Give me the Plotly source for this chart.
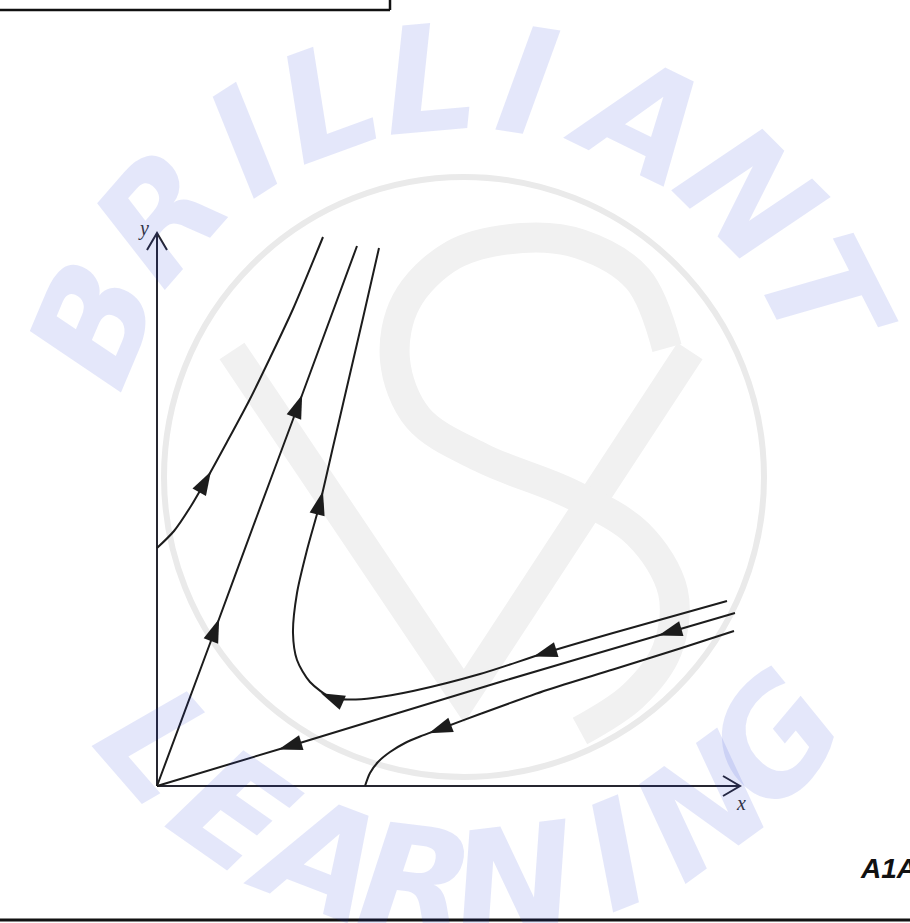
import math
import plotly.graph_objects as go

# ---------------- data (phase-plane units, origin at the axes corner) ----------------
curve_a_x = [0, 17, 34, 48, 70, 93, 113, 136, 166]
curve_a_y = [238, 255, 280, 304, 344, 387, 428, 477, 549]

curve_b_x = [0, 58, 100, 141, 200]
curve_b_y = [0, 156, 270, 380, 540]

curve_c_x = [570, 456, 388, 323, 256, 216, 193, 175, 153, 140, 136, 140, 150, 163, 176, 186, 206, 222]
curve_c_y = [185, 153, 133, 112, 95, 88, 86.5, 88, 104, 126, 153, 193, 236, 283, 339, 382, 468, 538]

curve_d_x = [578, 513, 343, 133, 0]
curve_d_y = [173, 154, 104, 40, 0]

curve_e_x = [577, 523, 456, 390, 323, 283, 263, 248, 233, 221, 213, 208]
curve_e_y = [155, 137.5, 116.5, 96, 72, 57, 49.5, 43, 34, 24, 13, 0]

# which sample of each curve carries a direction arrow
arrow_a = [3]
arrow_b = [1, 3]
arrow_c = [2, 7, 13]
arrow_d = [1, 3]
arrow_e = [5]

axis_x_end = 583
axis_y_end = 553
axis_labels = ["x", "y"]

# watermark
wm_top_text = "BRILLIANT"
wm_top_angles = [157, 139, 123, 110, 95, 81, 64, 45, 27]
wm_bottom_text = "LEARNING"
wm_bottom_angles = [-139, -125, -111, -97, -83, -68, -54, -40]
logo_v_x = [75, 307, 533]
logo_v_y = [435, 90, 435]
logo_s_x = [510, 481, 423, 365, 296, 249, 238, 261, 325, 412, 481, 516, 510, 476, 423]
logo_s_y = [438, 507, 542, 548, 531, 484, 426, 368, 328, 293, 252, 194, 136, 90, 55]
footer_text = "A1A"

# ---------------- layout constants ----------------
W, H = 910, 923
X_RANGE = [-157, 753]
Y_RANGE = [-137, 786]
CURVE = "#1c1c1c"
AXIS = "#262630"


def px(x):
    return x / W


def py(y):
    return 1 - y / H


def arrow_marks(xs, ys, idxs, half=12):
    ax, ay, ang = [], [], []
    for i in idxs:
        dx = xs[i + 1] - xs[i - 1]
        dy = ys[i + 1] - ys[i - 1]
        n = math.hypot(dx, dy)
        ux, uy = dx / n, dy / n
        ax.append(xs[i] + half * ux)
        ay.append(ys[i] + half * uy)
        ang.append(math.degrees(math.atan2(ux, uy)))
    return ax, ay, ang


fig = go.Figure()

# faint gray logo (below curves)
fig.add_trace(go.Scatter(x=logo_v_x, y=logo_v_y, mode="lines",
                         line=dict(color="#f1f1f1", width=30), hoverinfo="skip"))
fig.add_trace(go.Scatter(x=logo_s_x, y=logo_s_y, mode="lines",
                         line=dict(color="#f1f1f1", width=30, shape="spline"), hoverinfo="skip"))

# axes
fig.add_trace(go.Scatter(x=[0, 0], y=[0, axis_y_end], mode="lines",
                         line=dict(color=AXIS, width=2), hoverinfo="skip"))
fig.add_trace(go.Scatter(x=[0, axis_x_end], y=[0, 0], mode="lines",
                         line=dict(color=AXIS, width=2), hoverinfo="skip"))
fig.add_trace(go.Scatter(x=[-10, 0, 10], y=[axis_y_end - 17, axis_y_end, axis_y_end - 17], mode="lines",
                         line=dict(color=AXIS, width=2), hoverinfo="skip"))
fig.add_trace(go.Scatter(x=[axis_x_end - 17, axis_x_end, axis_x_end - 17], y=[10, 0, -10], mode="lines",
                         line=dict(color=AXIS, width=2), hoverinfo="skip"))

curves = [
    (curve_a_x, curve_a_y, arrow_a),
    (curve_b_x, curve_b_y, arrow_b),
    (curve_c_x, curve_c_y, arrow_c),
    (curve_d_x, curve_d_y, arrow_d),
    (curve_e_x, curve_e_y, arrow_e),
]
ax_all, ay_all, ang_all = [], [], []
for xs, ys, idx in curves:
    fig.add_trace(go.Scatter(x=xs, y=ys, mode="lines",
                             line=dict(color=CURVE, width=2, shape="spline", smoothing=0.8),
                             hoverinfo="skip"))
    a, b, c = arrow_marks(xs, ys, idx)
    ax_all += a
    ay_all += b
    ang_all += c

fig.add_trace(go.Scatter(x=ax_all, y=ay_all, mode="markers",
                         marker=dict(symbol="arrow", size=25, angle=ang_all, color=CURVE,
                                     line=dict(width=0)),
                         hoverinfo="skip"))

annotations = []
# axis labels
annotations.append(dict(x=axis_x_end + 1, y=-17, xref="x", yref="y", text=axis_labels[0], showarrow=False,
                        font=dict(family="Liberation Serif", size=20, color="#333", style="italic")))
annotations.append(dict(x=-14, y=axis_y_end + 5, xref="x", yref="y", text=axis_labels[1], showarrow=False,
                        font=dict(family="Liberation Serif", size=20, color="#333", style="italic")))

# watermark letters
cx, cy = 308, 306
wm_font = dict(family="DejaVu Sans", size=148, color="rgba(30,55,213,0.12)",
               weight=700, style="italic")
for ch, th in zip(wm_top_text, wm_top_angles):
    r = 402
    annotations.append(dict(x=cx + r * math.cos(math.radians(th)), y=cy + r * math.sin(math.radians(th)),
                            xref="x", yref="y", text=ch, showarrow=False, textangle=90 - th,
                            font=wm_font))
for ch, th in zip(wm_bottom_text, wm_bottom_angles):
    r = 405
    annotations.append(dict(x=cx + r * math.cos(math.radians(th)), y=cy + r * math.sin(math.radians(th)),
                            xref="x", yref="y", text=ch, showarrow=False, textangle=-90 - th,
                            font=wm_font))

annotations.append(dict(x=px(858), y=py(868), xref="paper", yref="paper", text=footer_text,
                        showarrow=False, xanchor="left", yanchor="middle",
                        font=dict(family="Liberation Sans", size=28, color="#111",
                                  weight=700, style="italic")))

shapes = [
    dict(type="circle", xref="x", yref="y", x0=7, x1=607, y0=9, y1=609,
         line=dict(color="#eaeaea", width=6), layer="below"),
    dict(type="line", xref="paper", yref="paper", x0=0, x1=px(390), y0=py(10), y1=py(10),
         line=dict(color="#111", width=2.5)),
    dict(type="line", xref="paper", yref="paper", x0=px(390), x1=px(390), y0=py(0), y1=py(10),
         line=dict(color="#111", width=2.5)),
    dict(type="line", xref="paper", yref="paper", x0=0, x1=1, y0=py(920), y1=py(920),
         line=dict(color="#111", width=3)),
]

fig.update_layout(
    width=W, height=H, margin=dict(l=0, r=0, t=0, b=0),
    paper_bgcolor="white", plot_bgcolor="white", showlegend=False,
    xaxis=dict(range=X_RANGE, visible=False, fixedrange=True),
    yaxis=dict(range=Y_RANGE, visible=False, fixedrange=True),
    annotations=annotations, shapes=shapes,
)

fig.write_html("out.html", config={"displayModeBar": False, "staticPlot": True},
               post_script="document.body.style.margin='0px';")
